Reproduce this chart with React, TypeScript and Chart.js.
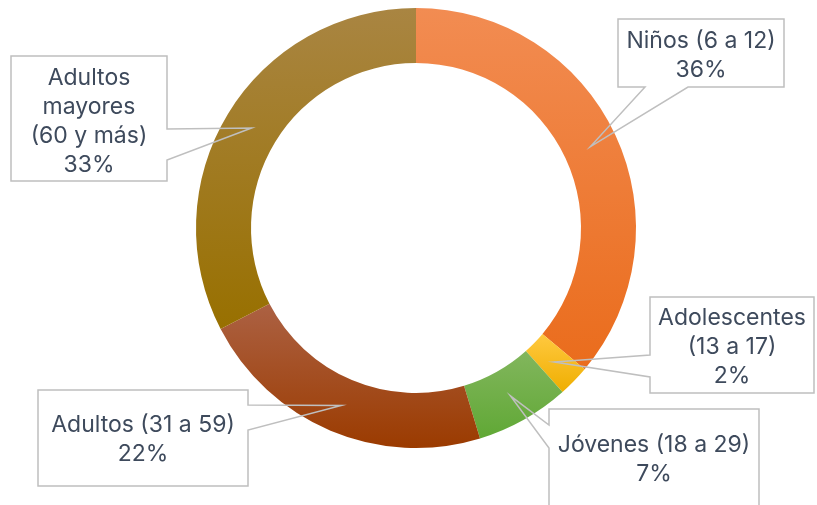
import React, { useEffect, useRef } from "react";
import { Chart, registerables } from "chart.js";

Chart.register(...registerables);

const categories = [
  "Niños (6 a 12)",
  "Adolescentes (13 a 17)",
  "Jóvenes (18 a 29)",
  "Adultos (31 a 59)",
  "Adultos mayores (60 y más)",
];
const shares = [36.1, 2.3, 6.9, 22.1, 32.6];
const topColors = ["#F28C52", "#FFC940", "#82B65D", "#AC6143", "#A98542"];
const bottomColors = ["#EA6C1C", "#EFAE00", "#60A835", "#9B3B00", "#987000"];

type Side = "left" | "right" | "bottom";
type Callout = {
  box: [number, number, number, number];
  side: Side;
  base: [number, number];
  baseline: number;
  wrapW: number;
};

// layout of the label callouts (positions only)
const callouts: Callout[] = [
  { box: [618, 19, 784, 87], side: "bottom", base: [645, 688], baseline: 48, wrapW: 160 },
  { box: [650, 297, 814, 393], side: "left", base: [355, 377], baseline: 325, wrapW: 158 },
  { box: [549, 409, 759, 515], side: "left", base: [425, 448], baseline: 452, wrapW: 204 },
  { box: [38, 390, 248, 486], side: "right", base: [405, 430], baseline: 432, wrapW: 204 },
  { box: [11, 56, 167, 181], side: "right", base: [129, 160], baseline: 85, wrapW: 120 },
];

const FONT = "23px Inter";
const TEXT_COLOR = "#3E4A5C";
const LINE_H = 29;

function wrap(ctx: CanvasRenderingContext2D, text: string, maxW: number): string[] {
  const words = text.split(" ");
  const lines: string[] = [];
  let cur = "";
  for (const w of words) {
    const t = cur ? cur + " " + w : w;
    if (ctx.measureText(t).width <= maxW || !cur) cur = t;
    else {
      lines.push(cur);
      cur = w;
    }
  }
  if (cur) lines.push(cur);
  return lines;
}

const calloutPlugin = {
  id: "callouts",
  afterDraw(chart: any) {
    const ctx: CanvasRenderingContext2D = chart.ctx;
    const meta = chart.getDatasetMeta(0);
    const total = shares.reduce((a, b) => a + b, 0);
    ctx.save();
    callouts.forEach((c, i) => {
      const arc = meta.data[i];
      if (!arc) return;
      const tip = arc.tooltipPosition();
      const [x0, y0, x1, y1] = c.box;
      const [b0, b1] = c.base;
      ctx.beginPath();
      ctx.moveTo(x0, y0);
      ctx.lineTo(x1, y0);
      if (c.side === "right") {
        ctx.lineTo(x1, b0);
        ctx.lineTo(tip.x, tip.y);
        ctx.lineTo(x1, b1);
      }
      ctx.lineTo(x1, y1);
      if (c.side === "bottom") {
        ctx.lineTo(b1, y1);
        ctx.lineTo(tip.x, tip.y);
        ctx.lineTo(b0, y1);
      }
      ctx.lineTo(x0, y1);
      if (c.side === "left") {
        ctx.lineTo(x0, b1);
        ctx.lineTo(tip.x, tip.y);
        ctx.lineTo(x0, b0);
      }
      ctx.closePath();
      ctx.strokeStyle = "#BFBFBF";
      ctx.lineWidth = 1.5;
      ctx.lineJoin = "miter";
      ctx.stroke();

      ctx.font = FONT;
      ctx.fillStyle = TEXT_COLOR;
      ctx.textAlign = "center";
      ctx.textBaseline = "alphabetic";
      const lines = wrap(ctx, categories[i], c.wrapW);
      lines.push(Math.round((shares[i] / total) * 100) + "%");
      const cx = (x0 + x1) / 2;
      lines.forEach((l, k) => ctx.fillText(l, cx, c.baseline + k * LINE_H));
    });
    ctx.restore();
  },
};

function segmentGradient(context: any) {
  const i = context.dataIndex;
  const chart = context.chart;
  const area = chart.chartArea;
  if (!area || i === undefined) return topColors[i ?? 0];
  const cx = (area.left + area.right) / 2;
  const cy = (area.top + area.bottom) / 2;
  const R = Math.min(area.right - area.left, area.bottom - area.top) / 2;
  const r = R * 0.75;
  const total = shares.reduce((a, b) => a + b, 0);
  let start = 0;
  for (let k = 0; k < i; k++) start += shares[k];
  const a0 = (start / total) * Math.PI * 2;
  const a1 = ((start + shares[i]) / total) * Math.PI * 2;
  let ymin = Infinity;
  let ymax = -Infinity;
  for (let s = 0; s <= 60; s++) {
    const a = a0 + ((a1 - a0) * s) / 60;
    for (const rad of [r, R]) {
      const y = cy - rad * Math.cos(a);
      ymin = Math.min(ymin, y);
      ymax = Math.max(ymax, y);
    }
  }
  const g = chart.ctx.createLinearGradient(0, ymin, 0, ymax);
  g.addColorStop(0, topColors[i]);
  g.addColorStop(1, bottomColors[i]);
  return g;
}

export default function App() {
  const ref = useRef<HTMLCanvasElement | null>(null);
  useEffect(() => {
    if (!ref.current) return;
    const chart = new Chart(ref.current, {
      type: "doughnut",
      data: {
        labels: categories,
        datasets: [
          {
            data: shares,
            backgroundColor: segmentGradient as any,
            borderWidth: 0,
          },
        ],
      },
      options: {
        responsive: false,
        animation: false,
        cutout: "75%",
        layout: { padding: { left: 196, right: 181, top: 8, bottom: 57 } },
        plugins: {
          legend: { display: false },
          tooltip: { enabled: false },
        },
      },
      plugins: [calloutPlugin],
    });
    return () => chart.destroy();
  }, []);
  return (
    <div style={{ position: "fixed", left: 0, top: 0, width: 817, height: 505, background: "#fff" }}>
      <canvas ref={ref} width={817} height={505} />
    </div>
  );
}
